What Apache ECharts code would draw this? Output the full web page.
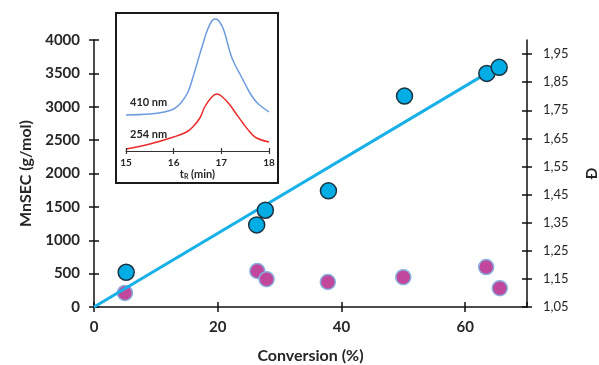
<!DOCTYPE html>
<html><head><meta charset="utf-8">
<script src="https://cdn.jsdelivr.net/npm/echarts@6/dist/echarts.min.js"></script>
<style>html,body{margin:0;padding:0;background:#fff}#c{width:599px;height:365px}</style>
</head><body><div id="c"></div>
<script>
// Main chart data
const mnConversion = [5.2, 26.3, 27.7, 37.9, 50.2, 63.5, 65.5];
const mnValues = [520, 1230, 1450, 1740, 3160, 3500, 3590];
const dispConversion = [5.0, 26.4, 27.9, 37.8, 50.0, 63.4, 65.6];
const dispValues = [1.100, 1.178, 1.149, 1.139, 1.156, 1.192, 1.117];
const fitConversion = [0, 64];
const fitMn = [0, 3530];
const dispTicks = [1.05, 1.15, 1.25, 1.35, 1.45, 1.55, 1.65, 1.75, 1.85, 1.95];
// Inset (SEC traces), arbitrary intensity units
const tR410 = [15.0, 15.5, 15.8, 16.0, 16.15, 16.3, 16.4, 16.5, 16.6, 16.7, 16.8, 16.87, 16.95, 17.05, 17.2, 17.3, 17.4, 17.5, 17.6, 17.7, 17.8, 18.0];
const sig410 = [36, 37, 39, 42, 48, 59, 73, 89, 105, 120, 130, 132, 130, 121, 96, 85, 76, 67, 58, 51, 46, 39];
const tR254 = [15.0, 15.5, 16.0, 16.27, 16.4, 16.55, 16.65, 16.8, 16.9, 17.0, 17.18, 17.3, 17.45, 17.6, 17.74, 18.0];
const sig254 = [2, 7, 14, 19, 24, 33, 44, 54, 57, 55, 46, 38, 28, 19, 13, 9];
const insetTicks = [15, 16, 17, 18];

const zip = (a, b) => a.map((v, i) => [v, b[i]]);
const txt = '#262626';
const F = 'Lato';
const axLine = {onZero: false, lineStyle: {color: '#111', width: 1.5}};
const noLine = {show: false, onZero: false};

const chart = echarts.init(document.getElementById('c'), null, {renderer: 'canvas'});
const mainGrid = {left: 94, right: 72, top: 40, bottom: 58, outerBoundsMode: 'none', containLabel: false};
const xBase = {gridIndex: 0, type: 'value', min: 0, max: 70, interval: 20, position: 'bottom', offset: 0, splitLine: {show: false}};
const yLBase = {gridIndex: 0, type: 'value', min: 0, max: 4000, interval: 500, position: 'left', offset: 0, splitLine: {show: false}};
const yRBase = {gridIndex: 0, type: 'value', min: 1.05, max: 2.0, position: 'right', offset: 0, splitLine: {show: false}};

chart.setOption({
  animation: false,
  textStyle: {fontFamily: F},
  grid: [mainGrid, {left: 126, top: 16, width: 143, height: 135, outerBoundsMode: 'none', containLabel: false}],
  xAxis: [
    Object.assign({}, xBase, {
      axisLine: axLine, axisTick: {length: 5, lineStyle: {color: '#111', width: 1.5}},
      axisLabel: {color: txt, fontSize: 15, fontWeight: 'bold', margin: 13, showMaxLabel: false},
      name: 'Conversion (%)', nameLocation: 'middle', nameGap: 41,
      nameTextStyle: {color: txt, fontSize: 16, fontWeight: 'bold', fontFamily: F}
    }),
    Object.assign({}, xBase, {
      axisLine: noLine, axisTick: {inside: true, length: 5, lineStyle: {color: '#111', width: 1.5}},
      axisLabel: {show: false}
    }),
    {gridIndex: 1, type: 'value', min: 15, max: 18, interval: 1, position: 'bottom', z: 6,
      splitLine: {show: false},
      axisLine: {onZero: false, lineStyle: {color: '#333', width: 1.2}},
      axisTick: {length: 3, lineStyle: {color: '#333', width: 1.2}},
      axisLabel: {color: txt, fontSize: 10, fontWeight: 'bold', margin: 7},
      name: '{t|t}{s|R}{t| (min)}', nameLocation: 'middle', nameGap: 18,
      nameTextStyle: {rich: {t: {fontSize: 11, fontWeight: 'bold', color: txt, fontFamily: F}, s: {fontSize: 7, fontWeight: 'bold', color: txt, verticalAlign: 'bottom', padding: [4, 0, 0, 0], fontFamily: F}}}
    },
    {gridIndex: 1, type: 'value', min: 15, max: 18, interval: 1, position: 'bottom', z: 6,
      splitLine: {show: false}, axisLine: noLine,
      axisTick: {inside: true, length: 3, lineStyle: {color: '#333', width: 1.2}},
      axisLabel: {show: false}
    }
  ],
  yAxis: [
    Object.assign({}, yLBase, {
      axisLine: axLine, axisTick: {length: 5, lineStyle: {color: '#111', width: 1.5}},
      axisLabel: {color: txt, fontSize: 15, fontWeight: 'bold', margin: 14, formatter: v => String(v)},
      name: 'MnSEC (g/mol)', nameLocation: 'middle', nameGap: 60, nameRotate: 90,
      nameTextStyle: {color: txt, fontSize: 16, fontWeight: 'bold', fontFamily: F}
    }),
    Object.assign({}, yRBase, {
      axisLine: axLine,
      axisTick: {length: 5, customValues: dispTicks, lineStyle: {color: '#111', width: 1.5}},
      axisLabel: {color: txt, fontSize: 13, margin: 16, customValues: dispTicks,
        formatter: v => v.toFixed(2).replace('.', ',')},
      name: 'Đ', nameLocation: 'middle', nameGap: 58, nameRotate: 90,
      nameTextStyle: {color: txt, fontSize: 15, fontWeight: 'bold', fontFamily: F}
    }),
    Object.assign({}, yLBase, {
      axisLine: noLine, axisTick: {inside: true, length: 5, lineStyle: {color: '#111', width: 1.5}},
      axisLabel: {show: false}
    }),
    Object.assign({}, yRBase, {
      axisLine: noLine,
      axisTick: {inside: true, length: 5, customValues: dispTicks, lineStyle: {color: '#111', width: 1.5}},
      axisLabel: {show: false}
    }),
    {gridIndex: 1, type: 'value', min: 0, max: 135, show: false}
  ],
  graphic: [
    {type: 'rect', z: -1, shape: {x: 116, y: 13, width: 162, height: 170},
      style: {fill: '#fff', stroke: '#1a1a1a', lineWidth: 2}},
    {type: 'text', z: 10, x: 130, y: 97, style: {text: '410 nm', fill: txt, font: 'bold 11px Lato'}},
    {type: 'text', z: 10, x: 130, y: 129, style: {text: '254 nm', fill: txt, font: 'bold 11px Lato'}}
  ],
  series: [
    {type: 'scatter', xAxisIndex: 0, yAxisIndex: 1, data: zip(dispConversion, dispValues), symbolSize: 15, z: 2,
      itemStyle: {color: '#c0479b', borderColor: '#88b0de', borderWidth: 1.5, opacity: 1}},
    {type: 'line', xAxisIndex: 0, yAxisIndex: 0, data: zip(fitConversion, fitMn), symbol: 'none', z: 3,
      lineStyle: {color: '#18b1e7', width: 3}},
    {type: 'scatter', xAxisIndex: 0, yAxisIndex: 0, data: zip(mnConversion, mnValues), symbolSize: 16, z: 4,
      itemStyle: {color: '#02ade6', borderColor: '#1b3340', borderWidth: 1.5, opacity: 1}},
    {type: 'line', xAxisIndex: 2, yAxisIndex: 4, data: zip(tR410, sig410), symbol: 'none', smooth: 0.4, z: 5,
      lineStyle: {color: '#6e9be0', width: 1.5}},
    {type: 'line', xAxisIndex: 2, yAxisIndex: 4, data: zip(tR254, sig254), symbol: 'none', smooth: 0.4, z: 5,
      lineStyle: {color: '#ee2b2b', width: 1.5}}
  ]
});
</script></body></html>
